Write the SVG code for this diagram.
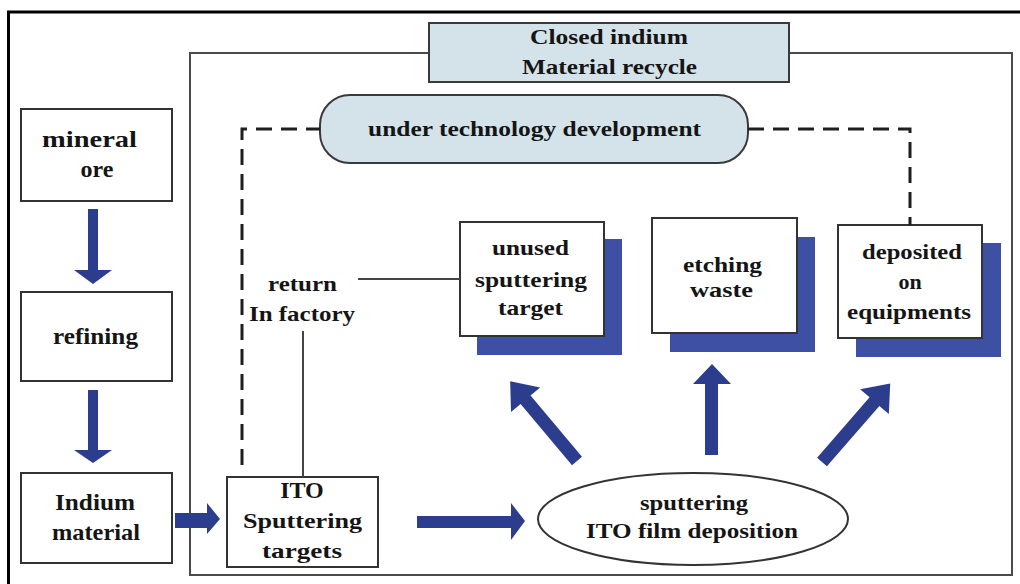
<svg xmlns="http://www.w3.org/2000/svg" width="1020" height="584" viewBox="0 0 1020 584">
  <style>
    .t { font-family: "Liberation Serif", "Times New Roman", serif; font-weight: bold; font-size: 22px; fill: #151515; }
    .tl { font-size: 24px; }
    .box { fill: #ffffff; stroke: #333333; stroke-width: 2; }
    .tint { fill: #d4e3ea; stroke: #3a3a3a; stroke-width: 2; }
    .shadow { fill: #3d50a3; }
    .arrow { fill: #2c3d8d; }
    .dash { fill: none; stroke: #1e1e1e; stroke-width: 3; stroke-dasharray: 16 9; }
    .thin { fill: none; stroke: #444444; stroke-width: 2; }
  </style>

  <rect x="0" y="0" width="1020" height="584" fill="#ffffff"/>

  <!-- outer frame (right and bottom edges run past the canvas) -->
  <rect id="outer-frame" x="8.5" y="12" width="1030" height="600" fill="none" stroke="#000000" stroke-width="3"/>

  <!-- closed recycle frame -->
  <rect id="recycle-frame" x="190" y="53" width="822" height="522" fill="none" stroke="#4a4a4a" stroke-width="2"/>

  <g id="title">
    <rect class="tint" x="429" y="23" width="360" height="59"/>
    <text class="t" x="530" y="44" textLength="158" lengthAdjust="spacingAndGlyphs">Closed indium</text>
    <text class="t" x="522" y="74" textLength="175" lengthAdjust="spacingAndGlyphs">Material recycle</text>
  </g>

  <g id="tech-development">
    <rect class="tint" x="320" y="95" width="428" height="68" rx="30" ry="30"/>
    <text class="t" x="368" y="136" textLength="333" lengthAdjust="spacingAndGlyphs">under technology development</text>
  </g>

  <g id="mineral-ore">
    <rect class="box" x="21" y="109" width="151" height="92"/>
    <text class="t tl" x="42" y="147" textLength="95" lengthAdjust="spacingAndGlyphs">mineral</text>
    <text class="t tl" x="97" y="177" text-anchor="middle">ore</text>
  </g>

  <g id="refining">
    <rect class="box" x="21" y="292" width="151" height="89"/>
    <text class="t tl" x="53" y="344" textLength="85" lengthAdjust="spacingAndGlyphs">refining</text>
  </g>

  <g id="indium-material">
    <rect class="box" x="21" y="473" width="151" height="90"/>
    <text class="t tl" x="55" y="510" textLength="80" lengthAdjust="spacingAndGlyphs">Indium</text>
    <text class="t tl" x="52" y="540" textLength="88" lengthAdjust="spacingAndGlyphs">material</text>
  </g>

  <g id="ito-targets">
    <rect class="box" x="227" y="477" width="151" height="90"/>
    <text class="t tl" x="302" y="498" text-anchor="middle">ITO</text>
    <text class="t" x="243" y="528" textLength="119" lengthAdjust="spacingAndGlyphs">Sputtering</text>
    <text class="t" x="302" y="558" text-anchor="middle" textLength="80" lengthAdjust="spacingAndGlyphs">targets</text>
  </g>

  <g id="return-label">
    <text class="t" x="268" y="291" textLength="69" lengthAdjust="spacingAndGlyphs">return</text>
    <text class="t" x="249" y="321" textLength="106" lengthAdjust="spacingAndGlyphs">In factory</text>
  </g>

  <g id="unused-target">
    <rect class="shadow" x="477" y="239" width="145" height="116"/>
    <rect class="box" x="460" y="222" width="144" height="114"/>
    <text class="t" x="492" y="255" textLength="77" lengthAdjust="spacingAndGlyphs">unused</text>
    <text class="t" x="475" y="287" textLength="112" lengthAdjust="spacingAndGlyphs">sputtering</text>
    <text class="t" x="498" y="315" textLength="65" lengthAdjust="spacingAndGlyphs">target</text>
  </g>

  <g id="etching-waste">
    <rect class="shadow" x="670" y="237" width="145" height="115"/>
    <rect class="box" x="652" y="218" width="145" height="115"/>
    <text class="t" x="683" y="272" textLength="79" lengthAdjust="spacingAndGlyphs">etching</text>
    <text class="t" x="690" y="297" textLength="63" lengthAdjust="spacingAndGlyphs">waste</text>
  </g>

  <g id="deposited-equipment">
    <rect class="shadow" x="856" y="243" width="145" height="114"/>
    <rect class="box" x="838" y="225" width="144" height="113"/>
    <text class="t" x="862" y="259" textLength="100" lengthAdjust="spacingAndGlyphs">deposited</text>
    <text class="t" x="910" y="289" text-anchor="middle">on</text>
    <text class="t" x="847" y="319" textLength="124" lengthAdjust="spacingAndGlyphs">equipments</text>
  </g>

  <g id="sputtering-deposition">
    <ellipse cx="693" cy="519" rx="155" ry="46" fill="#ffffff" stroke="#333333" stroke-width="2"/>
    <text class="t" x="640" y="510" textLength="108" lengthAdjust="spacingAndGlyphs">sputtering</text>
    <text class="t" x="586" y="538" textLength="212" lengthAdjust="spacingAndGlyphs">ITO film deposition</text>
  </g>

  <g id="connectors">
    <!-- dashed loop through the development stage -->
    <polyline class="dash" points="242,465 242,129 320,129"/>
    <polyline class="dash" points="748,129 910,129 910,225"/>

    <!-- in-factory return line -->
    <line class="thin" x1="358" y1="279" x2="460" y2="279"/>
    <line class="thin" x1="303" y1="331" x2="303" y2="477"/>

    <!-- material flow arrows -->
    <polygon class="arrow" points="88,209 98,209 98,270 112,270 93,284 74,270 88,270"/>
    <polygon class="arrow" points="88,390 98,390 98,450 112,450 93,463 74,450 88,450"/>
    <polygon class="arrow" points="175,513 207,513 207,503 220,519 207,534 207,528 175,528"/>
    <polygon class="arrow" points="417,516 511,516 511,503 525,521 511,540 511,528 417,528"/>

    <!-- outputs of the deposition step -->
    <polygon class="arrow" points="705,455 718,455 718,384 731,384 712,364 693,384 705,384"/>
    <polygon class="arrow" transform="translate(577,461) rotate(-130)" points="0,-6.5 80,-6.5 80,-19 104,0 80,19 80,6.5 0,6.5"/>
    <polygon class="arrow" transform="translate(822,462) rotate(-49)" points="0,-6.5 80,-6.5 80,-19 104,0 80,19 80,6.5 0,6.5"/>
  </g>
</svg>
